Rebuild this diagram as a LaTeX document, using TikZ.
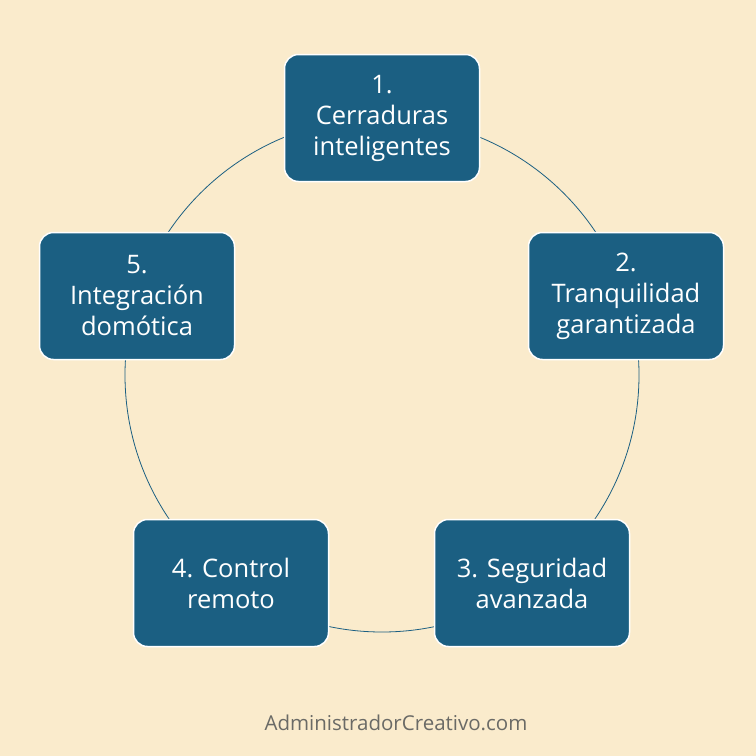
\documentclass[tikz,border=0pt]{standalone}
\usepackage{fontspec}
\setmainfont{Open Sans}
\definecolor{bg}{HTML}{FAEBCC}
\definecolor{boxblue}{HTML}{1B5F82}
\definecolor{foot}{HTML}{6A6A66}
\begin{document}
\begin{tikzpicture}[x=1pt,y=-1pt,
  stepbox/.style={draw=white, line width=1.5pt, fill=boxblue, rounded corners=14pt,
    minimum width=195pt, minimum height=127pt, inner sep=0pt, text=white,
    align=center, font=\fontsize{25.5}{31}\selectfont},
  foottext/.style={text=foot, font=\fontsize{20.5}{24}\selectfont}]
\fill[bg] (0,0) rectangle (756,756);
\useasboundingbox (0,0) rectangle (756,756);
\coordinate (c) at (382,375);
\draw[boxblue, line width=0.8pt] (c) circle[radius=257];
\node[stepbox] (n1) at (382,118) {1.\\Cerraduras\\inteligentes};
\node[stepbox] (n2) at (626,296) {2.\\Tranquilidad\\garantizada};
\node[stepbox] (n3) at (532,583) {3. Seguridad\\avanzada};
\node[stepbox] (n4) at (231,583) {4. Control\\remoto};
\node[stepbox] (n5) at (137,296) {5.\\Integración\\domótica};
\node[foottext] (ft) at (396,723) {AdministradorCreativo.com};
\end{tikzpicture}
\end{document}
